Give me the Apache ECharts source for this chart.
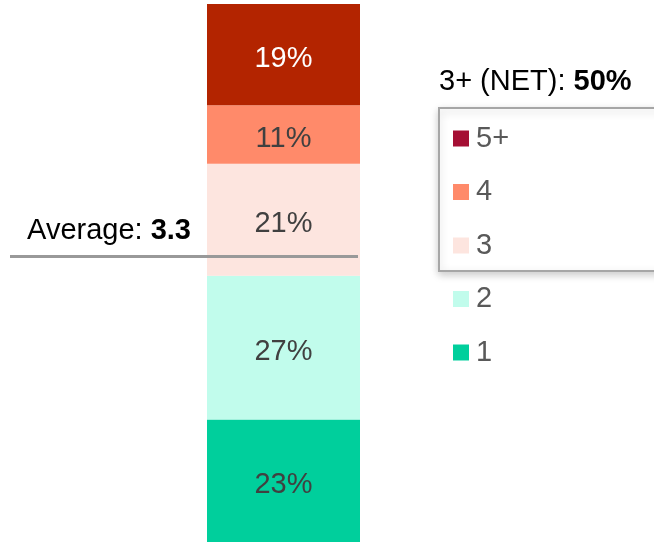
<!DOCTYPE html>
<html>
<head>
<meta charset="utf-8">
<script src="https://cdn.jsdelivr.net/npm/echarts@6/dist/echarts.min.js"></script>
<style>
  html, body { margin: 0; padding: 0; background: #fff; }
  #main { width: 654px; height: 542px; }
</style>
</head>
<body>
<div id="main"></div>
<script>
// 数据
var categories = ['Total']
var seriesNames = ['1', '2', '3', '4', '5+']
var seriesValues = [[23], [27], [21], [11], [19]]
var barColors = ['#00cf9c', '#c1fcec', '#fde5df', '#ff8a6a', '#b32400']
var legendOrder = ['5+', '4', '3', '2', '1']
var legendColors = { '5+': '#a50f34' }
var averageValue = 3.3
var averageLinePos = 53.6 // 平均线在柱上的位置（按百分比刻度）
var netLabel = '3+ (NET): '
var netValue = '50%'

var font = 'Liberation Sans, Arial, sans-serif'
var fs = 29

var series = seriesNames.map(function (name, i) {
  return {
    name: name,
    type: 'bar',
    stack: 'total',
    barWidth: '100%',
    data: seriesValues[i],
    itemStyle: { color: barColors[i] },
    label: {
      show: true,
      position: 'inside',
      offset: [0, 4],
      formatter: '{c}%',
      fontFamily: font,
      fontSize: fs,
      color: name === '5+' ? '#ffffff' : '#404040'
    }
  }
})

var myChart = echarts.init(document.getElementById('main'), null, { renderer: 'canvas' })
myChart.setOption({
  animation: false,
  grid: { left: 207, width: 153, top: 4, bottom: 0 },
  xAxis: { type: 'category', data: categories, show: false },
  yAxis: { type: 'value', min: 0, max: 101, show: false },
  legend: {
    orient: 'vertical',
    left: 448,
    top: 118,
    icon: 'rect',
    itemWidth: 16,
    itemHeight: 16,
    itemGap: 22.5,
    selectedMode: false,
    textStyle: { fontFamily: font, fontSize: fs, color: '#595959', lineHeight: 31, padding: [0, 0, 0, 2] },
    data: legendOrder.map(function (n) {
      var o = { name: n }
      if (legendColors[n]) o.itemStyle = { color: legendColors[n] }
      return o
    })
  },
  series: series
})

// 平均线和文字
var y = Math.round(myChart.convertToPixel({ yAxisIndex: 0 }, averageLinePos)) + 0.5
myChart.setOption({
  graphic: [
    {
      type: 'rect',
      z: -1,
      shape: { x: 439, y: 108, width: 230, height: 163 },
      style: { fill: '#fff', stroke: '#a6a6a6', lineWidth: 2, shadowBlur: 8, shadowOffsetY: 3, shadowColor: 'rgba(0,0,0,0.2)' }
    },
    {
      type: 'text',
      x: 439,
      y: 82,
      style: {
        text: '{a|' + netLabel + '}{b|' + netValue + '}',
        align: 'left',
        verticalAlign: 'middle',
        rich: {
          a: { fontFamily: font, fontSize: fs, color: '#000' },
          b: { fontFamily: font, fontSize: fs, fontWeight: 'bold', color: '#000' }
        }
      }
    },
    {
      type: 'line',
      z: 10,
      shape: { x1: 10, y1: y, x2: 358, y2: y },
      style: { stroke: '#999999', lineWidth: 3 }
    },
    {
      type: 'text',
      x: 191,
      y: y - 26,
      style: {
        text: '{a|Average: }{b|' + averageValue + '}',
        align: 'right',
        verticalAlign: 'middle',
        rich: {
          a: { fontFamily: font, fontSize: fs, color: '#000' },
          b: { fontFamily: font, fontSize: fs, fontWeight: 'bold', color: '#000' }
        }
      }
    }
  ]
})
</script>
</body>
</html>
